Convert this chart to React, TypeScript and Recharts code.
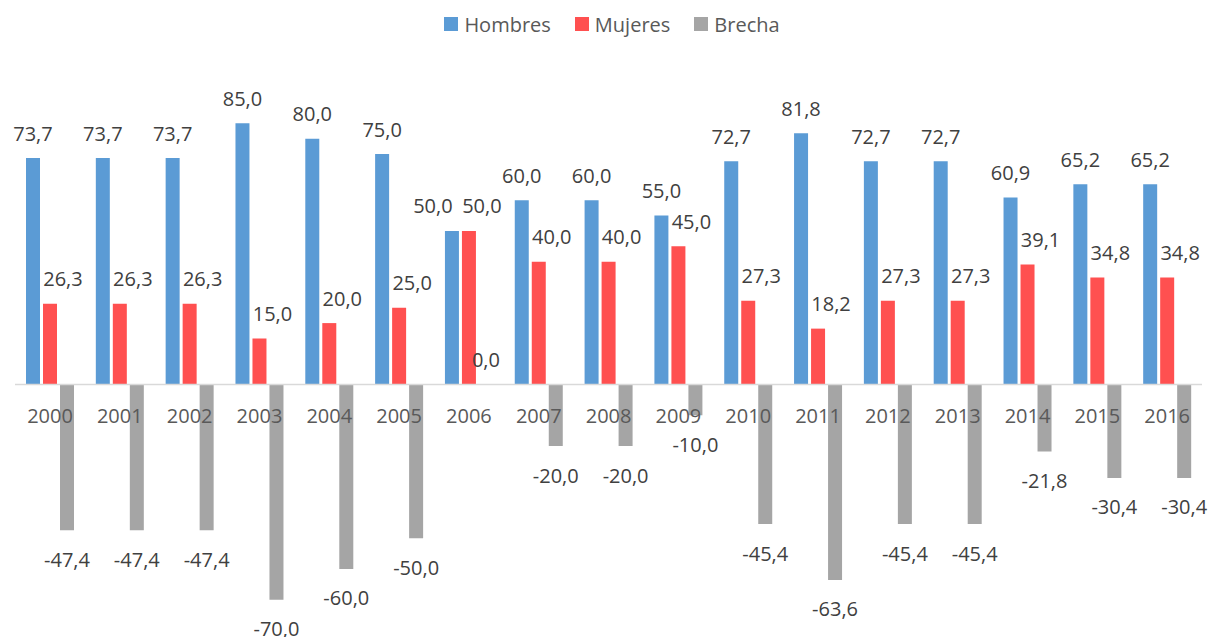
import React from 'react';
import { BarChart, Bar, XAxis, YAxis, Legend, ReferenceLine, LabelList } from 'recharts';

const years = ['2000', '2001', '2002', '2003', '2004', '2005', '2006', '2007', '2008', '2009', '2010', '2011', '2012', '2013', '2014', '2015', '2016'];
const hombres = [73.7, 73.7, 73.7, 85.0, 80.0, 75.0, 50.0, 60.0, 60.0, 55.0, 72.7, 81.8, 72.7, 72.7, 60.9, 65.2, 65.2];
const mujeres = [26.3, 26.3, 26.3, 15.0, 20.0, 25.0, 50.0, 40.0, 40.0, 45.0, 27.3, 18.2, 27.3, 27.3, 39.1, 34.8, 34.8];
const brecha = [-47.4, -47.4, -47.4, -70.0, -60.0, -50.0, 0.0, -20.0, -20.0, -10.0, -45.4, -63.6, -45.4, -45.4, -21.8, -30.4, -30.4];

const data = years.map((year, i) => ({ year, hombres: hombres[i], mujeres: mujeres[i], brecha: brecha[i] }));

const COLORS = { hombres: '#5B9BD5', mujeres: '#FF5050', brecha: '#A5A5A5' };
const SERIES = [
  { key: 'hombres', name: 'Hombres' },
  { key: 'mujeres', name: 'Mujeres' },
  { key: 'brecha', name: 'Brecha' },
];
const FONT = "'Open Sans', 'Segoe UI', sans-serif";
const BAR_SIZE = 14;
const BAR_GAP = 3;

const fmt = (v: number) => Number(v).toFixed(1).replace('.', ',');

const ValueText = ({ x, y, value }: { x: number; y: number; value: number }) => (
  <text x={x} y={y} textAnchor="middle" dominantBaseline="central" fontSize={20} fill="#404040" fontFamily={FONT}>
    {fmt(value)}
  </text>
);

const makeValueLabel = (series: string) => (props: any) => {
  const { x, y, width, height, value, index } = props;
  if (value === undefined || value === null) return null;
  const top = Math.min(y, y + height);
  const bottom = Math.max(y, y + height);
  const neg = value < 0;
  let dx = 0;
  if (series === 'mujeres') dx = 13;
  if (series === 'hombres' && typeof index === 'number' && Math.abs(hombres[index] - mujeres[index]) < 5) dx = -19;
  const cy = neg ? bottom + 29 : top - 25;
  return <ValueText x={x + width / 2 + dx} y={cy} value={value} />;
};

// Category labels sit on the zero line (bottom of the always-positive Hombres bars);
// zero-height Brecha bars are not drawn by Recharts, so their label is drawn here too.
const CategoryLabel = (props: any) => {
  const { x, y, width, height, value, index } = props;
  const bottom = Math.max(y, y + height);
  const groupCenter = x + width * 1.5 + BAR_GAP;
  const gapValue = typeof index === 'number' ? brecha[index] : years.indexOf(value) >= 0 ? brecha[years.indexOf(value)] : undefined;
  return (
    <g>
      <text x={groupCenter} y={bottom + 31} textAnchor="middle" dominantBaseline="central" fontSize={20} fill="#595959" fontFamily={FONT}>
        {value}
      </text>
      {gapValue === 0 ? <ValueText x={groupCenter + width + BAR_GAP} y={bottom - 25} value={0} /> : null}
    </g>
  );
};

const LegendContent = () => (
  <div style={{ height: 40, display: 'flex', justifyContent: 'center', alignItems: 'center', fontFamily: FONT, fontSize: 20, color: '#595959', paddingLeft: 12 }}>
    {SERIES.map((s) => (
      <div key={s.key} style={{ display: 'flex', alignItems: 'center', margin: '0 12px' }}>
        <span style={{ display: 'inline-block', width: 14, height: 14, background: (COLORS as any)[s.key], marginRight: 6 }} />
        <span>{s.name}</span>
      </div>
    ))}
  </div>
);

export default function App() {
  return (
    <div style={{ position: 'absolute', left: 0, top: 0, width: 1212, height: 637, background: '#fff' }}>
      <BarChart width={1212} height={637} data={data} margin={{ top: 68, right: 10, bottom: 22, left: 15 }} barSize={BAR_SIZE} barGap={BAR_GAP}>
        <XAxis dataKey="year" hide />
        <YAxis hide domain={[-75, 90]} allowDataOverflow />
        <Legend verticalAlign="top" align="center" content={<LegendContent />} wrapperStyle={{ top: 4, left: 0, width: 1212 }} />
        <ReferenceLine y={0} stroke="#D9D9D9" strokeWidth={1.5} />
        {SERIES.map((s) => (
          <Bar key={s.key} dataKey={s.key} name={s.name} fill={(COLORS as any)[s.key]} isAnimationActive={false}>
            <LabelList dataKey={s.key} content={makeValueLabel(s.key)} />
            {s.key === 'hombres' ? <LabelList dataKey="year" content={CategoryLabel} /> : null}
          </Bar>
        ))}
      </BarChart>
    </div>
  );
}
